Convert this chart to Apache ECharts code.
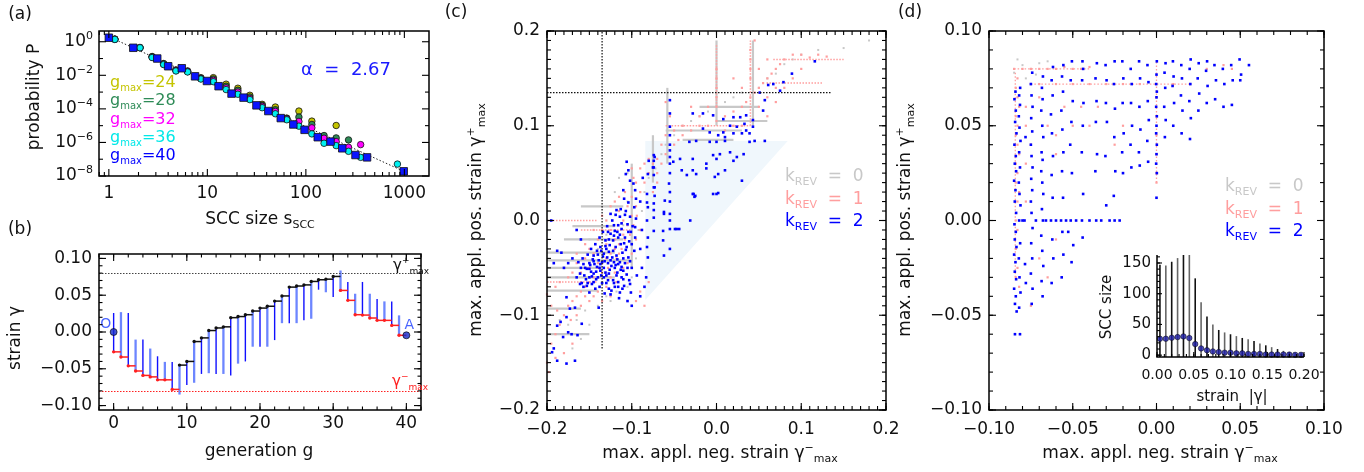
<!DOCTYPE html>
<html><head><meta charset="utf-8">
<script src="https://cdn.jsdelivr.net/npm/echarts@6/dist/echarts.min.js"></script>
<style>html,body{margin:0;padding:0;background:#fff}#chart{width:1364px;height:472px}</style>
</head><body><div id="chart"></div>
<script>
// ================= DATA =================
// (a) SCC size distribution, probabilities given as log10(P)
const a_sSquares = [1, 1.77, 3.1, 4.0, 5.5, 7.5, 9.9, 13, 17.6, 23.3, 31.5, 41.6, 55.6, 74.6, 97, 132, 178, 234, 319, 418, 985];
const a_logP_g40 = [0.24, -0.36, -1.0, -1.46, -1.58, -2.06, -2.34, -2.65, -3.09, -3.33, -3.79, -4.13, -4.55, -4.93, -5.25, -5.69, -5.95, -6.35, -6.75, -6.89, -7.72];
const a_sCircles = [1.15, 2.07, 2.75, 3.6, 4.8, 6.3, 8.6, 11.5, 15.5, 20.4, 27, 36, 49, 64, 85, 115, 153, 203, 271, 360, 850];
const a_logP_g24 = [0.16, -0.34, -0.88, -1.30, -1.68, -1.74, -2.14, -2.14, -2.53, -2.77, -3.19, -3.73, -3.89, -4.55, -4.13, -4.73, null, -4.99, null, null, null];
const a_logP_g28 = [0.15, -0.35, -0.90, -1.32, -1.70, -1.76, -2.18, -2.22, -2.65, -2.89, -3.29, -3.79, -4.05, -4.58, -4.49, -4.93, -5.59, -5.73, -5.85, null, null];
const a_logP_g32 = [0.14, -0.36, -0.92, -1.34, -1.72, -1.78, -2.20, -2.30, -2.75, -3.00, -3.38, -3.85, -4.15, -4.60, -4.75, -5.13, -5.75, -5.95, -6.29, -6.13, null];
const a_logP_g36 = [0.14, -0.36, -0.94, -1.36, -1.74, -1.80, -2.22, -2.38, -2.85, -3.13, -3.45, -3.93, -4.29, -4.65, -5.03, -5.49, -6.05, -6.19, -6.53, -6.89, -7.29];
const a_fitS = [1, 985];
const a_fitLogP = [0.30, -7.72];
const a_gmaxLabels = ['24', '28', '32', '36', '40'];
const a_alpha = '2.67';

// (b) strain protocol per generation g = 0..39
const b_step = [-0.027, -0.034, -0.046, -0.053, -0.059, -0.061, -0.065, -0.065, -0.078, -0.045,
  -0.040, -0.013, -0.008, 0.002, 0.0055, 0.007, 0.0195, 0.021, 0.0235, 0.0285,
  0.0325, 0.035, 0.042, 0.049, 0.061, 0.0625, 0.064, 0.0687, 0.071, 0.0718,
  0.0755, 0.0565, 0.043, 0.0235, 0.023, 0.019, 0.0158, 0.0158, 0.009, -0.0045];
const b_lo = [-0.0275, -0.034, -0.0465, -0.053, -0.0587, -0.061, -0.0655, -0.0655, -0.0777, -0.085,
  -0.072, -0.069, -0.057, -0.056, -0.057, -0.057, -0.059, -0.043, -0.040, -0.020,
  -0.020, -0.020, -0.011, 0.012, 0.012, 0.012, 0.016, 0.018, 0.0575, 0.054,
  0.0475, 0.0565, 0.043, 0.0235, 0.023, 0.019, 0.0158, 0.0158, 0.009, -0.0045];
const b_hi = [0.0258, 0.027, 0.0258, -0.0103, -0.0103, -0.0225, -0.033, -0.0406, -0.0406, -0.045,
  -0.040, -0.013, -0.008, 0.002, 0.0055, 0.007, 0.0195, 0.021, 0.0235, 0.0285,
  0.0325, 0.035, 0.042, 0.049, 0.061, 0.0625, 0.064, 0.0687, 0.071, 0.0718,
  0.0755, 0.0836, 0.0678, 0.052, 0.068, 0.052, 0.045, 0.0416, 0.0416, 0.0226];
const b_start = 0.0;
const b_gammaPlusMax = 0.0755;
const b_gammaMinusMax = -0.078;

// (c) max applied strains, k_REV = 0 / 1 / 2
const c_triangle = [[-0.084, 0.084], [0.084, 0.084], [-0.084, -0.084]];
const c_crossNeg = -0.135, c_crossPos = 0.135;
const c_k0_streaks = [
  [-0.2, -0.034, -0.12, -0.034], [-0.2, -0.042, -0.10, -0.042], [-0.2, -0.050, -0.135, -0.050], [-0.2, -0.060, -0.12, -0.060],
  [-0.2, -0.074, -0.14, -0.074], [-0.2, -0.120, -0.15, -0.120], [-0.18, -0.020, -0.11, -0.020], [-0.17, -0.006, -0.12, -0.006],
  [-0.2, -0.093, -0.16, -0.093], [-0.16, 0.015, -0.11, 0.015], [-0.06, 0.095, 0.03, 0.095], [-0.02, 0.120, 0.05, 0.120],
  [0.0, 0.105, 0.06, 0.105], [-0.04, 0.085, 0.02, 0.085], [0.0, 0.10, 0.0, 0.19], [0.043, 0.10, 0.043, 0.19],
  [-0.058, 0.06, -0.058, 0.14], [-0.1, -0.05, -0.1, 0.06], [-0.075, 0.04, -0.075, 0.09]];
const c_k0 = [[-0.185,-0.105],[-0.175,-0.11],[-0.165,-0.105],[-0.155,-0.095],[-0.17,-0.135],[-0.16,-0.125],[-0.15,-0.11],[-0.14,-0.09],
  [-0.13,-0.08],[-0.125,-0.085],[-0.118,-0.075],[-0.105,-0.07],[-0.1,-0.06],[-0.095,-0.04],[-0.092,-0.01],[-0.088,0.01],[-0.085,0.03],
  [-0.08,0.045],[-0.072,0.055],[-0.065,0.07],[-0.06,0.08],[-0.05,0.09],[-0.04,0.1],[-0.03,0.105],[-0.02,0.11],[-0.01,0.115],[0.01,0.125],
  [0.02,0.13],[0.03,0.135],[0.05,0.14],[0.06,0.15],[0.07,0.155],[0.08,0.165],[0.09,0.17],[0.1,0.175],[0.12,0.18],[0.15,0.182],[0.18,0.19],
  [-0.14,-0.03],[-0.15,-0.02],[-0.13,-0.015],[-0.12,-0.01],[-0.11,-0.005],[-0.1,0.0],[-0.105,0.02],[-0.12,0.03],[-0.115,0.045],[-0.105,0.05]];
const c_k1_streaks = [[-0.2, 0.0, -0.14, 0.0], [0.067, 0.17, 0.15, 0.17], [0.059, 0.145, 0.126, 0.145], [-0.16, -0.01, -0.1, -0.01],
  [-0.2, -0.065, -0.14, -0.065], [-0.06, 0.1, 0.04, 0.1], [0.0, 0.12, 0.0, 0.185], [0.04, 0.1, 0.04, 0.19]];
const c_k1 = [[-0.14,-0.05],[-0.135,-0.045],[-0.13,-0.04],[-0.125,-0.035],[-0.12,-0.03],[-0.115,-0.025],[-0.11,-0.015],[-0.105,-0.005],
  [-0.1,0.005],[-0.095,0.015],[-0.09,0.03],[-0.085,0.04],[-0.08,0.05],[-0.075,0.06],[-0.07,0.065],[-0.145,-0.06],[-0.15,-0.065],[-0.155,-0.07],
  [-0.16,-0.075],[-0.165,-0.08],[-0.17,-0.085],[-0.175,-0.09],[-0.18,-0.1],[-0.185,-0.11],[-0.19,-0.12],[-0.195,-0.13],[-0.2,-0.15],[-0.198,-0.16],
  [-0.19,-0.145],[-0.18,-0.14],[-0.17,-0.13],[-0.172,-0.105],[-0.165,-0.1],[-0.16,-0.09],[-0.15,-0.085],[-0.14,-0.075],[-0.13,-0.07],[-0.125,-0.06],
  [-0.12,-0.055],[-0.11,-0.05],[-0.105,-0.045],[-0.1,-0.035],[-0.095,-0.02],[-0.09,-0.01],[-0.115,-0.035],[-0.12,-0.02],[-0.13,-0.025],[-0.125,-0.01],
  [-0.11,0.0],[-0.105,0.015],[-0.1,0.025],[-0.095,0.04],[-0.09,0.055],[-0.085,0.06],[-0.08,0.065],[-0.115,0.01],[-0.12,0.02],[-0.108,0.03],
  [-0.098,0.045],[-0.165,-0.035],[-0.155,-0.04],[-0.15,-0.03],[-0.14,-0.02],[-0.135,-0.01],[-0.13,0.0],[-0.16,-0.055],[-0.175,-0.06],[-0.185,-0.065],
  [-0.19,-0.07],[-0.2,-0.078],[-0.195,-0.09],[-0.188,-0.095],[-0.08,-0.065],[-0.09,-0.075],[-0.085,-0.09],[-0.095,-0.085],
  [-0.145,-0.035],[-0.14,-0.045],[-0.135,-0.055],[-0.128,-0.05],[-0.118,-0.04],[-0.112,-0.03],[-0.108,-0.02],[-0.102,-0.015],[-0.098,-0.005],
  [-0.094,0.005],[-0.118,-0.065],[-0.125,-0.08],[-0.135,-0.085],[-0.145,-0.08],[-0.155,-0.08],[-0.16,-0.065],[-0.15,-0.05],[-0.165,-0.045],
  [-0.17,-0.055],[-0.155,-0.025],[-0.145,-0.01],[-0.135,0.005],[-0.125,0.015],[-0.115,0.025],[-0.1,0.055],
  [-0.06,0.07],[-0.05,0.08],[-0.045,0.085],[-0.04,0.09],[-0.03,0.095],[-0.02,0.1],[-0.01,0.1],[0.0,0.105],[0.01,0.11],[0.02,0.115],[0.03,0.12],
  [0.035,0.125],[0.04,0.13],[0.045,0.135],[0.05,0.14],[0.055,0.145],[0.06,0.15],[0.065,0.155],[0.07,0.16],[0.075,0.165],[0.08,0.17],[0.09,0.175],
  [0.1,0.175],[0.11,0.172],[0.12,0.175],[0.13,0.173],[0.045,0.19],[0.04,0.18],[0.04,0.17],[0.04,0.16],[0.04,0.15],[0.0,0.16],[0.0,0.15],[0.0,0.14],
  [0.0,0.13],[0.0,0.12],[0.02,0.15],[0.03,0.14],[0.05,0.12],[0.06,0.13],[0.07,0.14],[0.06,0.11],[0.07,0.125],[0.08,0.14],[0.09,0.15],[0.1,0.16],
  [0.05,0.16],[0.06,0.17],[-0.01,0.12],[-0.02,0.11],[-0.03,0.12],[-0.04,0.1],[-0.05,0.095],[-0.055,0.11],[-0.06,0.125],[-0.06,0.09],[-0.065,0.08],
  [0.02,0.1],[0.03,0.1],[0.01,0.095],[-0.065,0.06],[-0.07,0.05],[-0.07,0.04],[-0.075,0.03]];
const c_k2 = [[-0.106,0.062],[-0.104,0.053],[-0.107,0.049],[-0.102,0.042],[-0.110,0.032],[-0.109,0.023],[-0.104,0.019],[-0.098,0.039],
  [-0.096,0.032],[-0.095,0.023],[-0.097,0.014],[-0.095,0.002],[-0.096,-0.007],[-0.096,-0.018],[-0.097,-0.032],[-0.094,-0.058],
  [-0.080,0.063],[-0.081,0.049],[-0.082,0.028],[-0.082,0.019],[-0.081,0.014],[-0.082,0.000],[-0.081,-0.018],[-0.082,-0.028],[-0.081,-0.039],[-0.083,-0.060],
  [-0.074,0.069],[-0.074,0.063],[-0.074,0.056],[-0.074,0.048],[-0.074,0.035],[-0.073,0.026],[-0.074,0.018],[-0.074,0.011],[-0.074,0.003],[-0.074,-0.011],
  [-0.062,0.009],[-0.063,-0.011],[-0.063,-0.021],[-0.062,-0.037],[-0.055,0.000],[-0.055,-0.009],[-0.049,-0.009],[-0.044,-0.009],[-0.055,-0.030],
  [-0.027,0.028],[-0.025,0.026],[-0.031,0.000],[-0.004,0.028],[0.000,0.028],
  [-0.141,-0.032],[-0.133,-0.035],[-0.129,-0.039],[-0.125,-0.042],[-0.122,-0.032],[-0.118,-0.037],[-0.116,-0.046],[-0.112,-0.049],[-0.122,-0.021],
  [-0.116,-0.018],[-0.120,-0.011],[-0.112,-0.009],[-0.108,-0.018],[-0.106,-0.028],[-0.104,-0.039],[-0.110,-0.053],[-0.127,-0.056],[-0.137,-0.053],
  [-0.141,-0.049],[-0.149,-0.047],[-0.153,-0.051],[-0.157,-0.046],[-0.145,-0.056],[-0.133,-0.060],[-0.122,-0.063],[-0.116,-0.065],[-0.112,-0.060],
  [-0.145,-0.037],[-0.131,-0.021],[-0.125,-0.014],[-0.114,0.004],[-0.118,0.011],[-0.125,0.007],[-0.116,-0.005],[-0.137,-0.028],[-0.147,-0.067],
  [-0.153,-0.069],[-0.157,-0.070],[-0.161,-0.056],[-0.165,-0.060],[-0.188,-0.032],[-0.183,-0.034],
  [-0.128,-0.045],[-0.120,-0.050],[-0.135,-0.044],[-0.110,-0.040],[-0.130,-0.030],[-0.126,-0.026],[-0.119,-0.028],[-0.113,-0.025],[-0.140,-0.060],
  [-0.130,-0.066],[-0.108,-0.045],[-0.100,-0.050],[-0.103,-0.063],[-0.117,-0.055],[-0.124,-0.048],[-0.133,-0.050],[-0.150,-0.060],[-0.145,-0.065],
  [-0.138,-0.070],[-0.120,-0.070],[-0.127,-0.072],[-0.111,-0.072],[-0.101,-0.076],[-0.115,-0.082],[-0.125,-0.078],
  [-0.158,-0.040],[-0.152,-0.036],[-0.148,-0.030],[-0.143,-0.025],[-0.138,-0.018],[-0.134,-0.012],[-0.129,-0.006],[-0.123,0.000],[-0.119,0.006],
  [-0.113,0.012],[-0.108,0.006],[-0.105,-0.004],[-0.101,-0.012],[-0.103,-0.022],[-0.107,-0.031],[-0.111,-0.034],[-0.117,-0.041],[-0.121,-0.044],
  [-0.126,-0.052],[-0.131,-0.055],[-0.136,-0.058],[-0.142,-0.062],[-0.148,-0.054],[-0.154,-0.062],[-0.159,-0.066],[-0.134,-0.038],[-0.139,-0.042],
  [-0.144,-0.046],[-0.118,-0.058],[-0.113,-0.052],[-0.106,-0.057],[-0.102,-0.067],[-0.109,-0.069],[-0.114,-0.076],[-0.121,-0.066],[-0.128,-0.063],
  [-0.135,-0.066],[-0.143,-0.072],[-0.150,-0.076],[-0.132,-0.077],
  [-0.155,-0.050],[-0.150,-0.045],[-0.146,-0.041],[-0.140,-0.036],[-0.136,-0.032],[-0.131,-0.027],[-0.127,-0.020],[-0.121,-0.016],[-0.117,-0.012],
  [-0.112,-0.003],[-0.107,0.010],[-0.102,0.004],[-0.099,-0.006],[-0.100,-0.025],[-0.102,-0.043],[-0.105,-0.050],[-0.110,-0.062],[-0.116,-0.070],
  [-0.124,-0.074],[-0.130,-0.058],[-0.137,-0.046],[-0.142,-0.054],[-0.147,-0.059],[-0.152,-0.066],[-0.156,-0.058],[-0.160,-0.050],[-0.163,-0.044],
  [-0.119,-0.047],[-0.123,-0.039],[-0.114,-0.044],[-0.109,-0.024],[-0.114,-0.015],[-0.127,-0.033],[-0.132,-0.043],[-0.138,-0.050],[-0.145,-0.043],
  [-0.150,-0.051],[-0.121,-0.005],[-0.128,-0.012],[-0.104,-0.012],
  [-0.090,-0.080],[-0.085,-0.070],[-0.088,-0.050],[-0.090,-0.030],[-0.088,-0.010],[-0.090,0.020],[-0.087,0.045],[-0.100,-0.090],[-0.105,-0.085],
  [-0.160,-0.020],[-0.165,-0.010],[-0.170,-0.040],[-0.175,-0.045],[-0.180,-0.050],[-0.195,0.000],[-0.192,-0.045],
  [-0.177,-0.102],[-0.184,-0.107],[-0.188,-0.111],[-0.175,-0.118],[-0.181,-0.123],[-0.171,-0.120],[-0.167,-0.092],[-0.173,-0.093],[-0.177,-0.081],
  [-0.194,-0.139],[-0.192,-0.135],[-0.188,-0.148],[-0.177,-0.151],[-0.167,-0.148],[-0.161,-0.067],[-0.139,-0.092],[-0.164,-0.121],[-0.159,-0.109],
  [-0.028,0.113],[-0.016,0.113],[-0.004,0.111],[0.008,0.107],[0.020,0.109],[0.028,0.109],[0.035,0.111],[0.043,0.106],[0.016,0.100],[0.024,0.099],
  [0.033,0.102],[0.008,0.093],[0.002,0.090],[0.010,0.088],[0.020,0.092],[0.030,0.092],[0.035,0.095],[-0.016,0.097],[-0.008,0.093],[-0.024,0.084],
  [-0.032,0.083],[-0.008,0.083],[0.000,0.083],[0.010,0.084],[0.039,0.083],[0.045,0.084],[0.057,0.084],[0.039,0.092],[0.043,0.099],[0.055,0.116],
  [0.057,0.127],[0.051,0.135],[0.061,0.143],[0.067,0.144],[0.075,0.137],[0.079,0.146],[0.089,0.155],[0.116,0.168],[0.030,0.042],[0.002,0.049],
  [0.010,0.053],[0.020,0.063],[0.024,0.067],[0.032,0.070],[-0.041,0.053],[-0.028,0.053],[-0.012,0.055],[-0.035,0.048],[-0.024,0.049],[-0.004,0.069],
  [0.004,0.070],[0.016,0.072],[-0.043,0.065],[-0.028,0.065],[-0.012,0.060],[0.000,0.065],[-0.055,0.067],[-0.051,0.062],[-0.055,0.074],[-0.055,0.099],
  [-0.055,0.113],[-0.055,0.127],[-0.056,0.039],[-0.061,0.021],[-0.073,0.067],[-0.075,0.056],[-0.073,0.035],[-0.062,0.007],[-0.055,0.007],[-0.047,-0.009],
  [-0.028,0.028],[-0.026,0.025],[0.002,0.029],[-0.002,0.046],[-0.055,0.090],[-0.055,0.080],[-0.055,0.060],[-0.055,0.050],[-0.055,0.030],[-0.055,0.020]];

// (d) zoom on |strain| < 0.1
const d_k0 = [[-0.083,0.085],[-0.080,0.082],[-0.075,0.080],[-0.070,0.083],[-0.078,0.075],[-0.085,0.078],[-0.065,0.084],[-0.072,0.077]];
const d_k1_streaks = [[-0.0843, -0.03, -0.0843, 0.078], [-0.085, 0.080, -0.04, 0.080], [-0.075, 0.072, 0.02, 0.072], [0.0, 0.02, 0.0, 0.084]];
const d_k1 = [[-0.085,0.08],[-0.083,0.075],[-0.084,0.07],[-0.083,0.065],[-0.082,0.06],[-0.084,0.055],[-0.083,0.05],[-0.084,0.045],[-0.083,0.04],
  [-0.082,0.035],[-0.084,0.03],[-0.083,0.025],[-0.084,0.02],[-0.082,0.015],[-0.083,0.01],[-0.084,0.0],[-0.083,-0.005],[-0.084,-0.015],[-0.083,-0.025],
  [-0.082,-0.035],[-0.084,-0.03],[-0.08,0.08],[-0.075,0.08],[-0.07,0.08],[-0.065,0.08],[-0.06,0.08],[-0.055,0.081],[-0.05,0.08],[-0.045,0.08],
  [-0.04,0.081],[-0.075,0.072],[-0.07,0.072],[-0.06,0.072],[-0.05,0.072],[-0.04,0.072],[-0.03,0.072],[-0.02,0.072],[-0.01,0.072],[0.0,0.072],
  [0.01,0.072],[0.02,0.072],[0.0,0.065],[0.0,0.055],[0.0,0.045],[0.0,0.035],[0.0,0.025],[0.0,0.02],[-0.07,0.065],[-0.065,0.05],[-0.06,0.045],
  [-0.075,0.04],[-0.06,0.035],[-0.07,-0.02],[-0.065,-0.03],[-0.075,-0.045],[-0.06,-0.01],[-0.055,0.06],[-0.045,0.06],[-0.035,0.06],[-0.05,0.05],
  [-0.04,0.05],[-0.025,0.04],[-0.02,0.05],[0.03,0.08],[0.04,0.082],[0.045,0.08],[-0.078,0.06],[-0.078,0.05],[-0.078,0.03],[-0.078,0.01]];
const d_k2 = [
  [-0.0845,-0.060],[-0.0835,-0.048],[-0.0845,-0.044],[-0.0840,-0.040],[-0.0850,-0.036],[-0.0838,-0.031],[-0.0846,-0.027],[-0.0842,-0.022],
  [-0.0850,-0.018],[-0.0836,-0.014],[-0.0846,-0.010],[-0.0840,-0.006],[-0.0848,-0.002],[-0.0838,0.004],[-0.0846,0.010],[-0.0842,0.016],
  [-0.0850,0.021],[-0.0838,0.026],[-0.0846,0.030],[-0.0840,0.034],[-0.0848,0.040],[-0.0836,0.046],[-0.0844,0.052],[-0.0840,0.058],[-0.0848,0.064],[-0.0842,0.068],
  [-0.0815,-0.060],[-0.0820,-0.046],[-0.0812,-0.038],[-0.0818,-0.030],[-0.0822,-0.020],[-0.0814,-0.012],[-0.0820,0.000],[-0.0812,0.008],
  [-0.0818,0.014],[-0.0822,0.020],[-0.0815,0.028],[-0.0820,0.036],[-0.0812,0.042],[-0.0818,0.049],[-0.0822,0.055],[-0.0815,0.061],[-0.0820,0.066],[-0.0814,0.070],
  [-0.0785,-0.023],[-0.0780,-0.033],[-0.0788,0.000],[-0.0782,0.044],
  [-0.0745,-0.044],[-0.0740,-0.036],[-0.0750,-0.028],[-0.0742,-0.020],[-0.0748,-0.012],[-0.0740,-0.004],[-0.0746,0.004],[-0.0750,0.010],
  [-0.0742,0.016],[-0.0748,0.022],[-0.0740,0.028],[-0.0746,0.034],[-0.0750,0.040],[-0.0742,0.047],[-0.0748,0.054],[-0.0740,0.060],[-0.0746,0.066],[-0.0750,0.072],[-0.0742,0.078],
  [-0.0680,-0.040],[-0.0686,-0.032],[-0.0676,-0.024],[-0.0682,-0.016],[-0.0688,-0.008],[-0.0678,0.000],[-0.0684,0.006],[-0.0676,0.014],
  [-0.0682,0.020],[-0.0688,0.026],[-0.0680,0.032],[-0.0686,0.036],[-0.0676,0.044],[-0.0682,0.050],[-0.0688,0.058],[-0.0680,0.064],[-0.0684,0.070],[-0.0678,0.076],
  [-0.0626,-0.033],[-0.0616,-0.020],[-0.0622,-0.010],[-0.0630,0.000],[-0.0620,0.012],[-0.0626,0.024],[-0.0618,0.034],[-0.0624,0.046],[-0.0630,0.056],[-0.0620,0.066],[-0.0626,0.074],[-0.0618,0.081],
  [-0.0566,-0.030],[-0.0556,-0.018],[-0.0562,-0.006],[-0.0570,0.000],[-0.0558,0.012],[-0.0564,0.026],[-0.0556,0.036],[-0.0562,0.048],[-0.0568,0.058],[-0.0558,0.068],[-0.0564,0.076],[-0.0556,0.082],
  [-0.0507,-0.022],[-0.0497,-0.013],[-0.0527,-0.006],[-0.0512,0.000],[-0.0505,0.025],[-0.0515,0.040],[-0.0508,0.052],[-0.0500,0.063],[-0.0512,0.074],[-0.0505,0.084],
  [-0.0441,-0.009],[-0.0445,0.000],[-0.0438,0.014],[-0.0446,0.036],[-0.0440,0.050],[-0.0436,0.062],[-0.0444,0.074],[-0.0438,0.080],[-0.0442,0.084],
  [-0.0360,0.000],[-0.0365,0.026],[-0.0355,0.035],[-0.0362,0.052],[-0.0358,0.063],[-0.0364,0.075],[-0.0356,0.083],
  [-0.0300,0.008],[-0.0305,0.034],[-0.0296,0.052],[-0.0302,0.062],[-0.0298,0.074],[-0.0304,0.082],
  [-0.0250,0.000],[-0.0255,0.013],[-0.0246,0.026],[-0.0252,0.044],[-0.0248,0.059],[-0.0254,0.072],[-0.0250,0.084],
  [-0.0200,0.025],[-0.0205,0.036],[-0.0196,0.046],[-0.0202,0.062],[-0.0198,0.075],[-0.0204,0.084],
  [-0.0150,0.028],[-0.0155,0.040],[-0.0146,0.050],[-0.0152,0.062],[-0.0148,0.072],[-0.0154,0.080],
  [-0.0100,0.029],[-0.0105,0.036],[-0.0096,0.048],[-0.0102,0.060],[-0.0098,0.075],[-0.0104,0.084],
  [-0.0050,0.031],[-0.0055,0.042],[-0.0046,0.053],[-0.0052,0.063],[-0.0048,0.073],[-0.0054,0.082],
  [0.0000,0.012],[0.0002,0.025],[-0.0002,0.030],[0.0000,0.035],[0.0002,0.040],[-0.0002,0.046],[0.0000,0.050],[0.0002,0.055],[-0.0002,0.060],
  [0.0000,0.065],[0.0002,0.068],[-0.0002,0.072],[0.0000,0.077],[0.0002,0.084],
  [0.0050,0.044],[0.0055,0.053],[0.0046,0.060],[0.0052,0.070],[0.0048,0.078],[0.0054,0.083],
  [0.0100,0.050],[0.0105,0.062],[0.0096,0.071],[0.0102,0.076],[0.0098,0.084],
  [0.0150,0.046],[0.0155,0.058],[0.0146,0.066],[0.0152,0.075],[0.0148,0.082],
  [0.0200,0.043],[0.0205,0.054],[0.0196,0.063],[0.0202,0.072],[0.0198,0.080],[0.0204,0.085],
  [0.0250,0.058],[0.0255,0.067],[0.0246,0.075],[0.0252,0.083],[0.0300,0.062],[0.0305,0.071],[0.0296,0.079],[0.0302,0.084],
  [0.0350,0.064],[0.0355,0.074],[0.0346,0.082],[0.0400,0.060],[0.0405,0.072],[0.0396,0.080],
  [0.0450,0.061],[0.0455,0.074],[0.0446,0.082],[0.0500,0.074],[0.0505,0.077],[0.0496,0.085],[0.0552,0.082],
  [-0.0800,0.000],[-0.0720,0.000],[-0.0660,0.000],[-0.0600,0.000],[-0.0540,0.000],[-0.0480,0.000],[-0.0400,0.000],[-0.0330,0.000],[-0.0280,0.000],[-0.0220,0.000]];

// (d) inset: mean SCC size vs |strain|
const in_strain = [0.004, 0.012, 0.020, 0.028, 0.036, 0.044, 0.052, 0.060, 0.068, 0.076, 0.084, 0.092, 0.100, 0.108, 0.116, 0.124, 0.132, 0.140, 0.148, 0.156, 0.164, 0.172, 0.180, 0.188, 0.196];
const in_mean = [26.7, 26.7, 28.3, 29.4, 30.5, 27.8, 18, 11, 8, 6, 5, 4, 4, 3, 3, 2, 2, 2, 1, 1, 1, 1, 1, 0.5, 0.5];
const in_top = [147, 146, 152, 158, 170, 170, 125, 86, 63, 50, 41, 37, 34, 31, 28, 26, 23, 19, 16, 13, 10, 7, 5, 4, 3];

// ================= STYLE / HELPERS =================
const FONT = "'DejaVu Sans', Verdana, sans-serif";
const BLUE = '#0000ff', PINK = '#ff9e9e', GRAY = '#c8c8c8';
function seq(a, b, s) { const r = []; for (let i = 0; ; i++) { const v = +(a + i * s).toFixed(6); if (v > b + 1e-9) break; r.push(v); } return r; }
const fmtNum = n => v => (v < -1e-12 ? '\u2212' : '') + Math.abs(v).toFixed(n);

const GRIDS = [
  { left: 99, top: 31, width: 330, height: 145 },
  { left: 99, top: 254, width: 322, height: 156 },
  { left: 547, top: 31, width: 339, height: 379 },
  { left: 989, top: 31, width: 335, height: 379 },
  { left: 1157, top: 255, width: 147, height: 102 }
];

const xAxes = [], yAxes = [];
function mkAxis(list, grid, min, max, majors, fmt, o) {
  o = o || {};
  list.push({ type: 'value', gridIndex: grid, min: min, max: max, position: o.pos,
    splitLine: { show: false }, splitArea: { show: false }, minorTick: { show: false },
    axisLine: { show: false, onZero: false }, axisTick: { show: false },
    axisLabel: { show: true, customValues: majors, formatter: fmt, margin: o.margin == null ? 8 : o.margin, color: '#111',
      fontFamily: FONT, fontSize: o.fs || 17, rich: o.rich || {} } });
  return list.length - 1;
}
const aMinX = [];
for (let d = -1; d <= 3; d++) for (let m = 2; m <= 9; m++) { const v = Math.log10(m * Math.pow(10, d)); if (v >= -0.1 && v <= 3.25) aMinX.push(v); }

const AX = {
  a: { grid: 0, box: [-0.1, 3.25, -8, 0.64], xMaj: [0, 1, 2, 3], xMin: aMinX, yMaj: [-8, -6, -4, -2, 0], yMin: [-7, -5, -3, -1], LM: 7, Lm: 4 },
  b: { grid: 1, box: [-2, 42, -0.106, 0.106], xMaj: [0, 10, 20, 30, 40], xMin: seq(-2, 42, 2), yMaj: [-0.1, -0.05, 0, 0.05, 0.1], yMin: seq(-0.1, 0.1, 0.01), LM: 7, Lm: 3.5 },
  c: { grid: 2, box: [-0.2, 0.2, -0.2, 0.2], xMaj: [-0.2, -0.1, 0, 0.1, 0.2], xMin: seq(-0.2, 0.2, 0.01), yMaj: [-0.2, -0.1, 0, 0.1, 0.2], yMin: seq(-0.2, 0.2, 0.01), LM: 7, Lm: 4 },
  d: { grid: 3, box: [-0.1, 0.1, -0.1, 0.1], xMaj: [-0.1, -0.05, 0, 0.05, 0.1], xMin: seq(-0.1, 0.1, 0.01), yMaj: [-0.1, -0.05, 0, 0.05, 0.1], yMin: seq(-0.1, 0.1, 0.01), LM: 7, Lm: 4 },
  i: { grid: 4, box: [0, 0.2, -3, 163], xMaj: [0, 0.05, 0.1, 0.15, 0.2], xMin: seq(0, 0.2, 0.01), yMaj: [0, 50, 100, 150], yMin: seq(0, 160, 10), LM: 5, Lm: 3, open: true }
};

const aX = mkAxis(xAxes, 0, AX.a.box[0], AX.a.box[1], AX.a.xMaj, v => String(Math.round(Math.pow(10, v))), { pos: 'bottom', margin: 9 });
const aY = mkAxis(yAxes, 0, AX.a.box[2], AX.a.box[3], AX.a.yMaj, v => '{b|10}{s|' + (v === 0 ? '0' : '\u2212' + (-v)) + '}',
  { pos: 'left', margin: 6, rich: { b: { fontSize: 17, fontFamily: FONT, color: '#111', lineHeight: 22 }, s: { fontSize: 11, fontFamily: FONT, color: '#111', lineHeight: 11, verticalAlign: 'top' } } });
const bX = mkAxis(xAxes, 1, AX.b.box[0], AX.b.box[1], AX.b.xMaj, v => String(v), { pos: 'bottom', margin: 5 });
const bY = mkAxis(yAxes, 1, AX.b.box[2], AX.b.box[3], AX.b.yMaj, fmtNum(2), { pos: 'left', margin: 7 });
const cX = mkAxis(xAxes, 2, AX.c.box[0], AX.c.box[1], AX.c.xMaj, fmtNum(1), { pos: 'bottom', margin: 11 });
const cY = mkAxis(yAxes, 2, AX.c.box[2], AX.c.box[3], AX.c.yMaj, fmtNum(1), { pos: 'left', margin: 7 });
const dX = mkAxis(xAxes, 3, AX.d.box[0], AX.d.box[1], AX.d.xMaj, fmtNum(2), { pos: 'bottom', margin: 11 });
const dY = mkAxis(yAxes, 3, AX.d.box[2], AX.d.box[3], AX.d.yMaj, fmtNum(2), { pos: 'left', margin: 7 });
const iX = mkAxis(xAxes, 4, AX.i.box[0], AX.i.box[1], AX.i.xMaj, fmtNum(2), { pos: 'bottom', margin: 11, fs: 14 });
const iY = mkAxis(yAxes, 4, AX.i.box[2], AX.i.box[3], AX.i.yMaj, v => String(v), { pos: 'left', margin: 6, fs: 15 });

function segSeries(xi, yi, data, style, z) {
  return { type: 'custom', xAxisIndex: xi, yAxisIndex: yi, data: data, clip: true, z: z, silent: true,
    encode: { x: [0, 2], y: [1, 3] },
    renderItem: (p, api) => {
      const a = api.coord([api.value(0), api.value(1)]), b = api.coord([api.value(2), api.value(3)]);
      return { type: 'line', shape: { x1: a[0], y1: a[1], x2: b[0], y2: b[1] }, style: Object.assign({ fill: null }, style) };
    } };
}
function pts(xi, yi, data, color, size, z, sym) {
  return { type: 'scatter', xAxisIndex: xi, yAxisIndex: yi, data: data, symbol: sym || 'rect', symbolSize: size, silent: true, z: z,
    itemStyle: { color: color, opacity: 1 } };
}

const series = [];
// ---- (a)
series.push({ type: 'line', xAxisIndex: aX, yAxisIndex: aY, data: a_fitS.map((s, i) => [Math.log10(s), a_fitLogP[i]]), symbol: 'none', silent: true, z: 2,
  lineStyle: { color: '#222', width: 1, type: [1.5, 2] } });
const aCols = ['#c4c400', '#2e8b57', '#ff00ff', '#00f0f0'];
[a_logP_g24, a_logP_g28, a_logP_g32, a_logP_g36].forEach((arr, k) => {
  series.push({ type: 'scatter', xAxisIndex: aX, yAxisIndex: aY, silent: true, z: 3 + k,
    data: a_sCircles.map((s, i) => arr[i] == null ? null : [Math.log10(s), arr[i]]).filter(Boolean),
    symbol: 'circle', symbolSize: 6.5, itemStyle: { color: aCols[k], borderColor: '#111', borderWidth: 0.8, opacity: 1 } });
});
series.push({ type: 'scatter', xAxisIndex: aX, yAxisIndex: aY, silent: true, z: 8,
  data: a_sSquares.map((s, i) => [Math.log10(s), a_logP_g40[i]]),
  symbol: 'rect', symbolSize: 7.5, itemStyle: { color: '#0a14ff', borderColor: '#111', borderWidth: 0.8, opacity: 1 } });

// ---- (b)
series.push({ type: 'custom', xAxisIndex: bX, yAxisIndex: bY, silent: true, z: 2, clip: true,
  data: b_hi.map((h, g) => [g, b_lo[g], h]), encode: { x: 0, y: [1, 2] },
  renderItem: (p, api) => {
    const g = api.value(0), a = api.coord([g, api.value(1)]), b = api.coord([g, api.value(2)]);
    const dark = g % 2 === 0;
    return { type: 'line', shape: { x1: a[0], y1: a[1], x2: b[0], y2: b[1] },
      style: { stroke: dark ? '#1010ff' : '#6d86ff', lineWidth: dark ? 1.4 : 2.3 } };
  } });
const b_dir = []; // 1 = increasing (black), 0 = decreasing (red)
b_step.forEach((v, g) => { const prev = g === 0 ? b_start : b_step[g - 1]; b_dir.push(v > prev ? 1 : (v < prev ? 0 : (g ? b_dir[g - 1] : 0))); });
series.push({ type: 'custom', xAxisIndex: bX, yAxisIndex: bY, silent: true, z: 4, clip: true,
  data: b_step.map((v, g) => [g, v, g + 1, b_dir[g]]), encode: { x: [0, 2], y: 1 },
  renderItem: (p, api) => {
    const a = api.coord([api.value(0), api.value(1)]), b = api.coord([api.value(2), api.value(1)]);
    const col = api.value(3) ? '#111' : '#ff2020';
    return { type: 'group', children: [
      { type: 'line', shape: { x1: a[0], y1: a[1], x2: b[0], y2: b[1] }, style: { stroke: col, lineWidth: 1.5 } },
      { type: 'circle', shape: { cx: a[0], cy: a[1], r: 1.7 }, style: { fill: col } }] };
  } });
series.push({ type: 'scatter', xAxisIndex: bX, yAxisIndex: bY, silent: true, z: 6,
  data: [{ value: [0, b_start], label: { formatter: 'O', offset: [-8, -8] } }, { value: [40, b_step[b_step.length - 1]], label: { formatter: 'A', offset: [3, -10] } }],
  symbol: 'circle', symbolSize: 7, itemStyle: { color: '#1428c8', borderColor: '#000', borderWidth: 0.8 },
  label: { show: true, position: 'inside', color: '#1a3cff', fontFamily: FONT, fontSize: 14 },
  markLine: { silent: true, symbol: ['none', 'none'], label: { show: false }, animation: false,
    lineStyle: { type: [1.5, 1.5], width: 1 },
    data: [{ yAxis: b_gammaPlusMax, lineStyle: { color: '#444', type: [1.5, 1.5], width: 1 } }, { yAxis: b_gammaMinusMax, lineStyle: { color: '#ff2020', type: [1.5, 1.5], width: 1 } }] } });

// ---- (c)
series.push({ type: 'custom', xAxisIndex: cX, yAxisIndex: cY, silent: true, z: 1, data: c_triangle, encode: { x: 0, y: 1 },
  renderItem: (p, api) => p.dataIndex === 0 ? { type: 'polygon', shape: { points: c_triangle.map(v => api.coord(v)) }, style: { fill: '#f0f7fc' } } : null });
series.push(segSeries(cX, cY, c_k0_streaks, { stroke: GRAY, lineWidth: 2.2 }, 2));
series.push(pts(cX, cY, c_k0, GRAY, 2, 3));
series.push(segSeries(cX, cY, c_k1_streaks, { stroke: PINK, lineWidth: 1.5, lineDash: [1.5, 1.5] }, 4));
series.push(pts(cX, cY, c_k1, PINK, 2.2, 5));
series.push(pts(cX, cY, c_k2, BLUE, 2.6, 6));
series.push(segSeries(cX, cY, [[c_crossNeg, c_crossNeg, c_crossNeg, 0.2], [-0.2, c_crossPos, c_crossPos, c_crossPos]],
  { stroke: '#111', lineWidth: 1.2, lineDash: [1.5, 1.5] }, 7));

// ---- (d)
series.push(pts(dX, dY, d_k0, GRAY, 2, 3));
series.push(segSeries(dX, dY, d_k1_streaks, { stroke: PINK, lineWidth: 1.3, lineDash: [1.5, 2] }, 4));
series.push(pts(dX, dY, d_k1, PINK, 2.2, 5));
series.push(pts(dX, dY, d_k2, BLUE, 2.6, 6));

// ---- inset
series.push({ type: 'custom', xAxisIndex: iX, yAxisIndex: iY, silent: true, z: 8, clip: true,
  data: in_strain.map((s, i) => [s, in_top[i]]), encode: { x: 0, y: 1 },
  renderItem: (p, api) => {
    const a = api.coord([api.value(0), AX.i.box[2]]), b = api.coord([api.value(0), api.value(1)]);
    return { type: 'line', shape: { x1: a[0], y1: a[1], x2: b[0], y2: b[1] },
      style: { stroke: p.dataIndex % 2 === 0 ? '#111' : '#666', lineWidth: 1.6 } };
  } });
series.push({ type: 'scatter', xAxisIndex: iX, yAxisIndex: iY, silent: true, z: 9,
  data: in_strain.map((s, i) => [s, in_mean[i]]), symbol: 'circle', symbolSize: 5.5,
  itemStyle: { color: '#1c1ca8', borderColor: '#000', borderWidth: 0.6 } });

// ---- texts
function R(fs, color) {
  return {
    n: { fontSize: fs, fontFamily: FONT, fill: color, color: color, lineHeight: Math.round(fs * 1.3) },
    sup: { fontSize: Math.round(fs * 0.62), fontFamily: FONT, fill: color, color: color, lineHeight: Math.round(fs * 0.6), verticalAlign: 'top' },
    sub: { fontSize: Math.round(fs * 0.62), fontFamily: FONT, fill: color, color: color, lineHeight: Math.round(fs * 0.6), verticalAlign: 'bottom' }
  };
}
function T(x, y, text, o) {
  o = o || {}; const fs = o.fs || 17, c = o.color || '#111';
  return { type: 'text', x: x, y: y, rotation: o.rot || 0, z: 100, silent: true,
    style: { text: text, fill: c, fontSize: fs, fontFamily: FONT, align: o.align || 'center', textAlign: o.align || 'center',
      verticalAlign: 'middle', textVerticalAlign: 'middle', rich: R(fs, c) } };
}
const ROT = Math.PI / 2;
const gCols = ['#c4c400', '#2e8b57', '#ff00ff', '#00e8e8', '#0000ff'];
const graphics = [
  T(20, 15, '{n|(a)}'), T(20, 230, '{n|(b)}'), T(456, 13, '{n|(c)}'), T(910, 13, '{n|(d)}'),
  T(35, 97, '{n|probability P}', { rot: ROT }),
  T(260, 220, '{n|SCC size s}{sub|SCC}'),
  T(16, 338, '{n|strain γ}', { rot: ROT }),
  T(259, 452, '{n|generation g}'),
  T(477, 220, '{n|max. appl. pos. strain γ}{sup|+}{sub|max}', { rot: ROT }),
  T(720, 454, '{n|max. appl. neg. strain γ}{sup|\u2212}{sub|max}'),
  T(906, 220, '{n|max. appl. pos. strain γ}{sup|+}{sub|max}', { rot: ROT }),
  T(1160, 454, '{n|max. appl. neg. strain γ}{sup|\u2212}{sub|max}'),
  T(1107, 307, '{n|SCC size}', { rot: ROT, fs: 15 }),
  T(1232, 397, '{n|strain  |γ|}', { fs: 15 }),
  T(346, 70, '{n|α  =  ' + a_alpha + '}', { color: '#1a1aff', fs: 18 }),
  T(393, 266, '{n|γ}{sup|+}{sub|max}', { align: 'left', fs: 15 }),
  T(392, 382, '{n|γ}{sup|\u2212}{sub|max}', { align: 'left', fs: 15, color: '#ff2020' })
];
a_gmaxLabels.forEach((g, i) => graphics.push(T(110, 83 + i * 18.3, '{n|g}{sub|max}{n|=' + g + '}', { align: 'left', fs: 16, color: gCols[i] })));
const kCols = ['#c8c8c8', '#ff9e9e', '#0000ff'];
[0, 1, 2].forEach(k => {
  graphics.push(T(785, 177 + k * 22.5, '{n|k}{sub|REV}{n|  =  ' + k + '}', { align: 'left', fs: 17, color: kCols[k] }));
  graphics.push(T(1225, 187 + k * 22.5, '{n|k}{sub|REV}{n|  =  ' + k + '}', { align: 'left', fs: 17, color: kCols[k] }));
});

// frames as rect outlines of each grid's layout box; inward ticks as short polylines
GRIDS.forEach((g, gi) => {
  if (gi === 4) return;
  graphics.push({ type: 'rect', z: 95, silent: true, shape: { x: g.left, y: g.top, width: g.width, height: g.height },
    style: { stroke: '#000000', lineWidth: 1.5, fill: 'rgba(0,0,0,0)' } });
});
graphics.push({ type: 'polyline', z: 95, silent: true,
  shape: { points: [[GRIDS[4].left, GRIDS[4].top], [GRIDS[4].left, GRIDS[4].top + GRIDS[4].height], [GRIDS[4].left + GRIDS[4].width, GRIDS[4].top + GRIDS[4].height]] },
  style: { stroke: '#000000', lineWidth: 1.5, fill: 'rgba(0,0,0,0)' } });

const chart = echarts.init(document.getElementById('chart'), null, { renderer: 'canvas' });
chart.setOption({
  animation: false,
  textStyle: { fontFamily: FONT },
  grid: GRIDS,
  xAxis: xAxes, yAxis: yAxes, series: series, graphic: graphics
});

// tick marks, positioned through each grid's scales
function tickGraphics(spec) {
  const g = GRIDS[spec.grid], [x0, x1, y0, y1] = spec.box;
  const out = [];
  const px = v => g.left + (v - x0) / (x1 - x0) * g.width;
  const py = v => g.top + g.height - (v - y0) / (y1 - y0) * g.height;
  const seg = (ax, ay, bx, by) => out.push({ type: 'polyline', z: 96, silent: true, shape: { points: [[ax, ay], [bx, by]] },
    style: { stroke: '#000000', lineWidth: 1.1, fill: 'rgba(0,0,0,0)' } });
  const xt = (v, L) => { const x = px(v); seg(x, g.top + g.height, x, g.top + g.height - L); if (!spec.open) seg(x, g.top, x, g.top + L); };
  const yt = (v, L) => { const y = py(v); seg(g.left, y, g.left + L, y); if (!spec.open) seg(g.left + g.width, y, g.left + g.width - L, y); };
  spec.xMaj.forEach(v => xt(v, spec.LM)); spec.xMin.forEach(v => xt(v, spec.Lm));
  spec.yMaj.forEach(v => yt(v, spec.LM)); spec.yMin.forEach(v => yt(v, spec.Lm));
  return out;
}
let ticks = [];
['a', 'b', 'c', 'd', 'i'].forEach(k => { ticks = ticks.concat(tickGraphics(AX[k])); });
chart.setOption({ graphic: graphics.concat(ticks) });
</script></body></html>
